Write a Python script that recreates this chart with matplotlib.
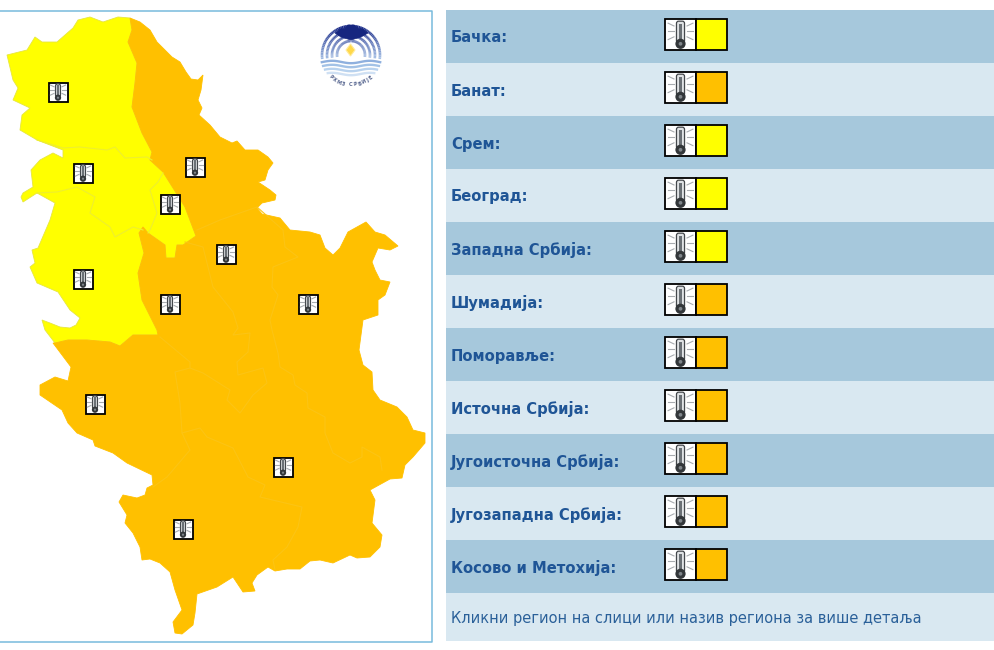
import numpy as np
import matplotlib
matplotlib.use("Agg")
import matplotlib.pyplot as plt
from matplotlib.collections import LineCollection
from matplotlib.patches import Polygon, Rectangle, Circle, FancyBboxPatch

# table content
regions = ["Бачка:", "Банат:", "Срем:", "Београд:", "Западна Србија:", "Шумадија:", "Поморавље:",
           "Источна Србија:", "Југоисточна Србија:", "Југозападна Србија:", "Косово и Метохија:"]
levels = ["y", "o", "y", "y", "y", "o", "o", "o", "o", "o", "o"]
footer = "Кликни регион на слици или назив региона за више детаља"
level_colors = {"y": "#ffff00", "o": "#ffc000"}

# traced map outlines, in image pixels
shared_border = [(130, 18), (132, 30), (128, 42), (137, 63), (135, 83), (132, 107), (142, 133), (152, 152),
                 (150, 160), (163, 172), (185, 207), (196, 236), (183, 245), (177, 245), (175, 258), (166, 258),
                 (165, 245), (148, 233), (143, 227), (139, 233), (144, 253), (138, 273), (142, 300), (157, 330),
                 (158, 335), (133, 335), (120, 346), (110, 342), (87, 340), (68, 340), (55, 343)]
yellow_west = [(45, 330), (42, 320), (50, 323), (60, 327), (70, 328), (76, 325), (80, 318), (70, 310), (58, 292),
               (37, 283), (30, 267), (35, 263), (32, 250), (38, 248), (50, 220), (55, 203), (37, 193), (23, 202),
               (21, 197), (23, 193), (33, 187), (31, 170), (40, 160), (53, 153), (63, 158), (63, 150), (37, 140),
               (20, 130), (22, 115), (30, 108), (13, 100), (18, 88), (13, 80), (7, 55), (27, 50), (35, 37),
               (42, 42), (57, 42), (73, 28), (78, 20), (90, 17), (103, 22), (118, 17)]
orange_east = [(140, 22), (150, 30), (157, 42), (163, 48), (172, 57), (180, 62), (186, 72), (191, 79), (198, 80),
               (203, 75), (201, 90), (198, 100), (202, 108), (199, 115), (210, 125), (220, 137), (232, 143),
               (237, 141), (245, 150), (258, 150), (268, 157), (273, 163), (268, 170), (265, 180), (258, 182),
               (270, 190), (276, 195), (275, 200), (262, 203), (257, 208), (262, 214), (280, 218), (290, 230),
               (310, 232), (320, 235), (325, 248), (333, 255), (340, 248), (348, 232), (366, 222), (375, 232),
               (385, 235), (398, 246), (390, 250), (378, 248), (372, 262), (375, 270), (380, 280), (390, 282),
               (385, 295), (378, 300), (378, 315), (363, 320), (359, 350), (363, 365), (372, 372), (373, 390),
               (380, 400), (397, 407), (407, 417), (413, 430), (425, 433), (425, 443), (413, 457), (405, 465),
               (402, 478), (390, 479), (370, 490), (375, 500), (372, 523), (382, 535), (380, 547), (370, 557),
               (357, 558), (350, 555), (333, 563), (320, 560), (310, 561), (300, 569), (287, 569), (275, 571),
               (268, 567), (257, 575), (252, 583), (255, 591), (243, 592), (233, 577), (217, 587), (197, 594),
               (195, 613), (193, 625), (182, 634), (175, 633), (173, 622), (182, 610), (175, 590), (170, 572),
               (160, 563), (150, 559), (142, 560), (140, 547), (133, 533), (125, 523), (127, 515), (119, 502),
               (123, 495), (137, 498), (145, 495), (147, 488), (153, 485), (152, 475), (127, 463), (113, 453),
               (95, 446), (93, 440), (77, 433), (68, 423), (62, 410), (40, 395), (40, 385), (55, 377), (68, 381),
               (71, 367), (53, 343)]
yellow_borders = [
    [(37, 140), (63, 148), (80, 147), (107, 150), (115, 147), (125, 158), (147, 157), (152, 160)],
    [(37, 193), (57, 192), (77, 187), (95, 197), (90, 213), (110, 227), (115, 237), (133, 227), (143, 230)],
    [(163, 173), (158, 182), (150, 190), (157, 213), (150, 230), (148, 233)],
]
orange_borders = [
    [(197, 230), (220, 220), (257, 207)],
    [(257, 207), (283, 230), (285, 247), (298, 257), (273, 267), (272, 287), (278, 295), (270, 320), (272, 330),
     (278, 353), (280, 367), (293, 375), (295, 385), (307, 393), (308, 408), (325, 417), (325, 433), (333, 453),
     (350, 463), (362, 457), (362, 447), (380, 457), (382, 470)],
    [(185, 242), (203, 247), (208, 267), (213, 287), (233, 312), (238, 328), (233, 335), (250, 333), (248, 352),
     (237, 362), (238, 375), (263, 368), (267, 383), (253, 395), (240, 413), (227, 400), (230, 390), (203, 373),
     (190, 368), (175, 372), (180, 403), (182, 433), (200, 428), (207, 437), (233, 448), (248, 477), (265, 485),
     (260, 497), (302, 507), (298, 527), (287, 547), (273, 560), (275, 570)],
    [(160, 337), (190, 362), (190, 368)],
    [(182, 433), (190, 450), (167, 477), (153, 487)],
]
icon_centers = [(58, 92), (83, 173), (195, 167), (170, 204), (226, 254), (83, 279), (170, 304), (308, 304),
                (95, 404), (283, 467), (183, 529)]
logo_text = "РХМЗ СРБИЈЕ"


def draw_icon(ax, cx, cy, w, h):
    # thermometer pictogram, sized to the box it sits in
    ax.add_patch(Rectangle((cx - w / 2, cy - h / 2), w, h, fc="white", ec="black", lw=1.3, zorder=5))
    sx, sy = w / 20, h / 20
    ax.add_patch(FancyBboxPatch((cx - 2.6 * sx, cy - 8.6 * sy), 5.2 * sx, 14 * sy,
                                boxstyle="round,pad=0,rounding_size=2.2",
                                fc="#dfe2e4", ec="#44484c", lw=0.9, zorder=6))
    ax.add_patch(Rectangle((cx - 1.1 * sx, cy - 7 * sy), 2.2 * sx, 11 * sy, fc="#6b7176", ec="none", zorder=7))
    ax.add_patch(Circle((cx, cy + 6 * sy), 3.3 * sx, fc="#33373a", ec="none", zorder=7))
    ax.add_patch(Circle((cx, cy + 6 * sy), 1.2 * sx, fc="#7f858a", ec="none", zorder=8))
    for side in (-1, 1):
        for dy, slope in ((-5.5, -1.8), (-2, 0), (1.5, 1.8)):
            ax.plot([cx + side * 4.2 * sx, cx + side * 8 * sx],
                    [cy + dy * sy, cy + (dy + slope) * sy], color="#a8acb0", lw=0.8, zorder=6)


def draw_logo(ax, lx, ly):
    # blurred institute mark: dome rings over waves, dark on top and pale below
    dark = np.array([0.09, 0.15, 0.52])
    pale = np.array([0.72, 0.83, 0.95])
    for r in (29, 24, 19, 14):
        t = np.radians(np.linspace(-8, 188, 60))
        xs, ys = lx + r * np.cos(t), ly - r * np.sin(t)
        segs = np.stack([np.c_[xs[:-1], ys[:-1]], np.c_[xs[1:], ys[1:]]], axis=1)
        k = np.clip((ys[:-1] - (ly - 30)) / 38, 0, 1)[:, None]
        ax.add_collection(LineCollection(segs, colors=dark * (1 - k) + pale * k, linewidths=1.9, zorder=2))
    for j, dy in enumerate((7, 11, 15, 19)):
        half = np.sqrt(30 ** 2 - dy ** 2)
        xs = np.linspace(lx - half, lx + half, 40)
        ys = ly + dy + 1.2 * np.cos((xs - lx) / 6)
        ax.plot(xs, ys, color=["#8fb0de", "#a3c2e6", "#b8d2ee", "#cfe0f3"][j], lw=1.7, zorder=2)
    ax.add_patch(Polygon([(335, 33), (340, 29), (345, 28), (348, 25), (354, 25), (358, 28), (363, 29), (368, 33),
                          (361, 37), (351, 40), (341, 37)], closed=True, fc="#16267f", ec="#16267f", lw=0.5, zorder=3))
    ax.add_patch(Polygon([(350.5, 44), (355, 50), (350.5, 56), (346, 50)], closed=True,
                         fc="#ffd84a", ec="#ffeb9a", lw=0.8, zorder=3))
    for i, ch in enumerate(logo_text):
        a = (i - (len(logo_text) - 1) / 2) * 0.145
        ax.text(lx + 30 * np.sin(a), ly + 30 * np.cos(a), ch, fontsize=3.6, color="#56658f",
                ha="center", va="center", rotation=np.degrees(a), fontweight="bold", zorder=3)


plt.rcParams["font.family"] = ["DejaVu Sans"]
fig = plt.figure(figsize=(9.94, 6.5), dpi=100)
ax = fig.add_axes([0, 0, 1, 1])
ax.set_xlim(0, 994)
ax.set_ylim(650, 0)
ax.axis("off")

# map frame, open on the left edge of the image
ax.plot([0, 431.5, 431.5, 0], [10.5, 10.5, 641.5, 641.5], color="#78bbdc", lw=1.1)

yellow_outline = shared_border + yellow_west
orange_outline = orange_east + shared_border[::-1]
ax.add_patch(Polygon(yellow_outline, closed=True, fc="#ffff00", ec="#e6e640", lw=0.6, zorder=2))
ax.add_patch(Polygon(orange_outline, closed=True, fc="#ffc000", ec="#ffc000", lw=0.6, zorder=3))
for line in yellow_borders:
    xs, ys = zip(*line)
    ax.plot(xs, ys, color="#eeee30", lw=0.8, zorder=3)
for line in orange_borders:
    xs, ys = zip(*line)
    ax.plot(xs, ys, color="#fcc414", lw=0.8, zorder=4)
for cx, cy in icon_centers:
    draw_icon(ax, cx, cy, 19, 19)

draw_logo(ax, 351, 55)

# table
row_h = 53
row_top = 10
for i, (name, level) in enumerate(zip(regions, levels)):
    y = row_top + i * row_h
    ax.barh(y + row_h / 2, 548, height=row_h, left=446, color="#a6c8dc" if i % 2 == 0 else "#d9e8f1", zorder=1)
    ax.text(451, y + row_h / 2 + 1.5, name, color="#1f5596", fontsize=10.6, fontweight="bold", ha="left", va="center", zorder=5)
    draw_icon(ax, 680.5, y + 24.5, 31, 31)
    ax.add_patch(Rectangle((696, y + 9), 30.5, 31, fc=level_colors[level], ec="black", lw=1.3, zorder=5))
y = row_top + len(regions) * row_h
ax.barh(y + 24, 548, height=48, left=446, color="#d9e8f1", zorder=1)
ax.text(451, y + 26, footer, color="#2a6099", fontsize=10.55, ha="left", va="center", zorder=5)

fig.savefig("out.png", dpi=100)
plt.close(fig)
